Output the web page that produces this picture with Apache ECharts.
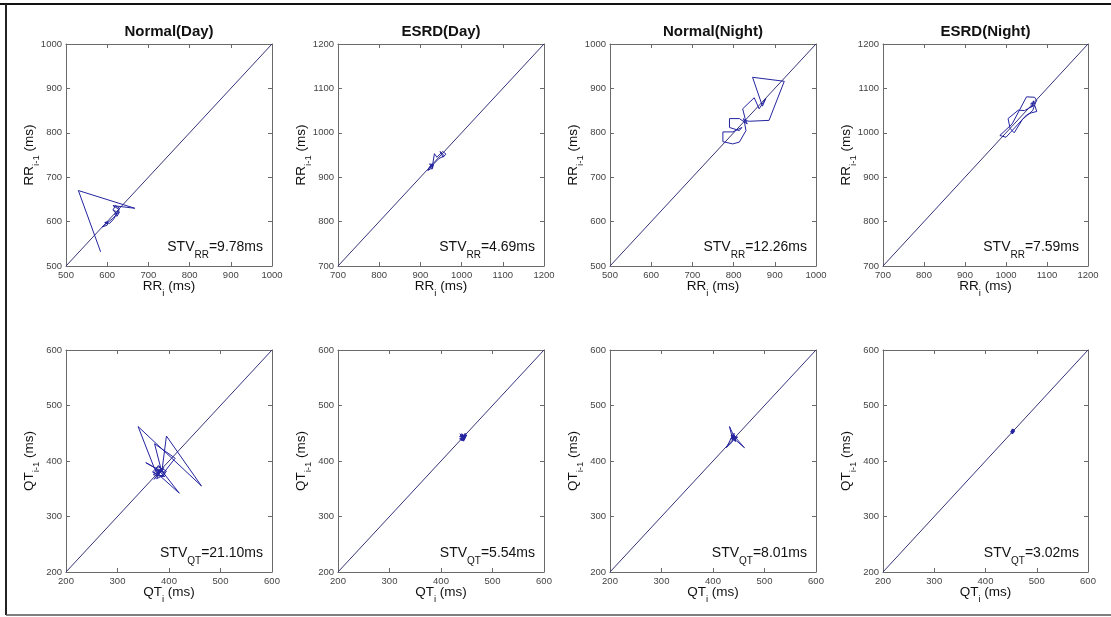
<!DOCTYPE html>
<html>
<head>
<meta charset="utf-8">
<script src="https://cdn.jsdelivr.net/npm/echarts@6/dist/echarts.min.js"></script>
<style>
  html, body { margin: 0; padding: 0; background: #fff; }
  #chart { width: 1111px; height: 617px; }
</style>
</head>
<body>
<div id="chart"></div>
<script>
// ---------- DATA ----------
const panelTitles = ['Normal(Day)', 'ESRD(Day)', 'Normal(Night)', 'ESRD(Night)'];
const rrAxisMin = [500, 700, 500, 700];
const rrAxisMax = [1000, 1200, 1000, 1200];
const rrTickStep = 100;
const qtAxisMin = 200;
const qtAxisMax = 600;
const qtTickStep = 100;
const stvRR = ['9.78', '4.69', '12.26', '7.59'];
const stvQT = ['21.10', '5.54', '8.01', '3.02'];

// RR trajectories (RR_i, RR_i-1)
const rrNormalDayX = [584, 530, 667, 614, 628, 622, 614, 620, 630, 626, 618, 624, 630, 612, 604, 596, 588, 592, 600, 602, 594, 606, 616, 622, 618];
const rrNormalDayY = [532, 670, 630, 636, 628, 618, 626, 636, 630, 620, 616, 612, 622, 606, 600, 594, 588, 584, 592, 600, 598, 596, 606, 616, 626];

const rrEsrdDayX = [925, 918, 930, 922, 932, 928, 934, 940, 954, 962, 955, 948, 958, 945, 926, 920, 928, 924, 930];
const rrEsrdDayY = [925, 915, 922, 930, 928, 918, 953, 945, 958, 952, 945, 958, 948, 942, 924, 920, 930, 921, 926];

const rrNormalNightX = [826, 838, 886, 923, 846, 870, 878, 862, 850, 822, 828, 833, 814, 790, 790, 814, 820, 798, 774, 774, 798, 814, 830, 826, 828, 824, 829, 826];
const rrNormalNightY = [828, 826, 828, 916, 925, 860, 877, 854, 879, 854, 832, 820, 832, 832, 812, 805, 812, 802, 802, 780, 775, 779, 805, 826, 830, 832, 825, 822];

const rrEsrdNightX = [1065, 1075, 1070, 1050, 1015, 985, 1000, 1010, 1050, 1062, 1075, 1070, 1055, 1045, 1030, 1005, 1010, 1020, 1040, 1065, 1072, 1060, 1068, 1062, 1066];
const rrEsrdNightY = [1060, 1072, 1080, 1081, 1020, 994, 990, 1000, 1040, 1045, 1048, 1062, 1055, 1050, 1051, 1032, 1010, 1000, 1030, 1050, 1068, 1065, 1072, 1058, 1064];

// QT trajectories (QT_i, QT_i-1)
const qtNormalDayX = [380, 372, 340, 463, 395, 386, 372, 412, 384, 420, 388, 355, 376, 392, 370, 378, 395, 388, 368, 380, 392, 376, 384, 372, 390, 382, 371, 386, 378, 384, 374, 391, 380];
const qtNormalDayY = [378, 386, 462, 355, 445, 380, 431, 405, 372, 342, 380, 397, 386, 372, 375, 390, 382, 372, 380, 392, 376, 368, 384, 376, 388, 380, 367, 382, 378, 371, 384, 379, 386];

const qtEsrdDayX = [442, 438, 446, 440, 448, 436, 444, 450, 441, 437, 445, 443, 439, 447, 442, 436, 449, 444, 440, 446, 438, 443, 447, 441, 445];
const qtEsrdDayY = [441, 446, 438, 449, 444, 440, 436, 447, 443, 449, 440, 445, 437, 442, 448, 444, 446, 439, 447, 441, 444, 436, 450, 438, 443];

const qtNormalNightX = [440, 436, 444, 432, 438, 446, 461, 442, 437, 426, 439, 445, 441, 435, 443, 448, 438, 441, 436, 444, 440, 434, 446, 439, 442, 437];
const qtNormalNightY = [442, 446, 438, 462, 440, 436, 424, 444, 434, 424, 448, 441, 437, 446, 440, 443, 438, 450, 441, 435, 446, 439, 444, 440, 447, 443];

const qtEsrdNightX = [453, 451, 455, 452, 456, 450, 454, 452, 457, 453, 449, 455, 451, 454, 452, 456, 453, 450, 455, 452];
const qtEsrdNightY = [452, 455, 451, 457, 454, 450, 456, 449, 453, 458, 452, 455, 451, 454, 450, 456, 449, 453, 457, 452];

const rrSeriesX = [rrNormalDayX, rrEsrdDayX, rrNormalNightX, rrEsrdNightX];
const rrSeriesY = [rrNormalDayY, rrEsrdDayY, rrNormalNightY, rrEsrdNightY];
const qtSeriesX = [qtNormalDayX, qtEsrdDayX, qtNormalNightX, qtEsrdNightX];
const qtSeriesY = [qtNormalDayY, qtEsrdDayY, qtNormalNightY, qtEsrdNightY];

// ---------- LAYOUT ----------
const colLefts = [66, 338, 610, 883];
const rowTops = [44, 350];
const gridW = 206;
const gridH = 222;
const FONT = "'Liberation Sans', Arial, sans-serif";
const boxColor = '#6a6a6a';
const tickLabelColor = '#444';
const textColor = '#111';
const dataColor = '#2424a0';
const diagColor = '#34347a';

function zip(xs, ys) { return xs.map((x, i) => [x, ys[i]]); }

const grids = [], xAxes = [], yAxes = [], series = [], graphics = [];

function richDef(mainSize, subSize, drop) {
  return {
    m: { fontSize: mainSize, fontFamily: FONT, fill: textColor, color: textColor, lineHeight: mainSize + 4, verticalAlign: 'top' },
    s: { fontSize: subSize, fontFamily: FONT, fill: textColor, color: textColor, lineHeight: subSize + 2, padding: [drop, 0, 0, 0], verticalAlign: 'top' }
  };
}

for (let row = 0; row < 2; row++) {
  for (let col = 0; col < 4; col++) {
    const idx = row * 4 + col;
    const left = colLefts[col], top = rowTops[row];
    const w = col === 3 ? gridW - 1 : gridW;
    const mn = row === 0 ? rrAxisMin[col] : qtAxisMin;
    const mx = row === 0 ? rrAxisMax[col] : qtAxisMax;
    const step = row === 0 ? rrTickStep : qtTickStep;
    grids.push({ left: left, top: top, width: w, height: gridH, show: false });

    const base = {
      gridIndex: idx, type: 'value', min: mn, max: mx, interval: step,
      splitLine: { show: false },
      axisLine: { show: true, onZero: false, lineStyle: { color: boxColor, width: 1 } },
      axisTick: { show: true, inside: true, length: 4, lineStyle: { color: boxColor } }
    };
    const lbl = { show: true, fontSize: 9.5, fontFamily: FONT, color: tickLabelColor, showMinLabel: true, showMaxLabel: true,
                  formatter: function (val) { return String(val); } };
    xAxes.push(Object.assign({}, base, { position: 'bottom', axisLabel: Object.assign({}, lbl, { margin: 4 }) }));
    xAxes.push(Object.assign({}, base, { position: 'top', axisLabel: { show: false } }));
    yAxes.push(Object.assign({}, base, { position: 'left', axisLabel: Object.assign({}, lbl, { margin: 4 }) }));
    yAxes.push(Object.assign({}, base, { position: 'right', axisLabel: { show: false } }));

    const ax = idx * 2;
    series.push({
      type: 'line', xAxisIndex: ax, yAxisIndex: ax, data: [[mn, mn], [mx, mx]],
      showSymbol: false, symbol: 'none', silent: true, animation: false,
      lineStyle: { color: diagColor, width: 1 }
    });
    const xs = row === 0 ? rrSeriesX[col] : qtSeriesX[col];
    const ys = row === 0 ? rrSeriesY[col] : qtSeriesY[col];
    series.push({
      type: 'line', xAxisIndex: ax, yAxisIndex: ax, data: zip(xs, ys),
      showSymbol: false, symbol: 'none', silent: true, animation: false,
      lineStyle: { color: dataColor, width: 1 }
    });

    const v = row === 0 ? 'RR' : 'QT';
    const bottom = top + gridH;
    if (row === 0) {
      graphics.push({ type: 'text', x: left + w / 2, y: 32, silent: true,
        style: { text: panelTitles[col], fill: textColor, font: 'bold 15px ' + FONT, align: 'center', verticalAlign: 'middle' } });
    }
    graphics.push({ type: 'text', x: left + w / 2, y: bottom + 13, silent: true,
      style: { text: '{m|' + v + '}{s|i}{m| (ms)}', rich: richDef(13.5, 9.5, 9), align: 'center', verticalAlign: 'top' } });
    graphics.push({ type: 'text', x: left - 44, y: top + gridH / 2, rotation: Math.PI / 2, silent: true,
      style: { text: '{m|' + v + '}{s|i-1}{m| (ms)}', rich: richDef(13.5, 9.5, 9), align: 'center', verticalAlign: 'top' } });
    const stv = row === 0 ? stvRR[col] : stvQT[col];
    graphics.push({ type: 'text', x: left + w - 9, y: bottom - 26, silent: true,
      style: { text: '{m|STV}{s|' + v + '}{m|=' + stv + 'ms}', rich: richDef(14, 10, 10), align: 'right', verticalAlign: 'top' } });
  }
}

// outer frame
graphics.push({ type: 'line', silent: true, shape: { x1: 0, y1: 4, x2: 1111, y2: 4 }, style: { stroke: '#111', lineWidth: 2 } });
graphics.push({ type: 'line', silent: true, shape: { x1: 6, y1: 4, x2: 6, y2: 615 }, style: { stroke: '#222', lineWidth: 2 } });
graphics.push({ type: 'line', silent: true, shape: { x1: 6, y1: 615, x2: 1111, y2: 615 }, style: { stroke: '#555', lineWidth: 1.5 } });

const chart = echarts.init(document.getElementById('chart'), null, { renderer: 'canvas' });
chart.setOption({
  backgroundColor: '#fff',
  animation: false,
  grid: grids,
  xAxis: xAxes,
  yAxis: yAxes,
  series: series,
  graphic: graphics
});
</script>
</body>
</html>
